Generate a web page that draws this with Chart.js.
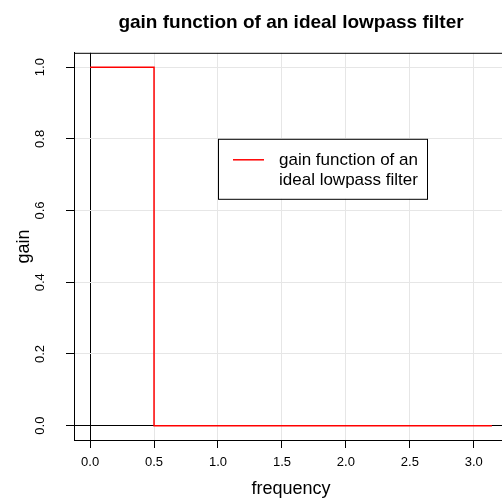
<!DOCTYPE html>
<html>
<head>
<meta charset="utf-8">
<script src="https://cdn.jsdelivr.net/npm/chart.js@4"></script>
<style>
  html, body { margin: 0; padding: 0; overflow: hidden; background: #fff; }
  #wrap { width: 502px; height: 502px; overflow: hidden; }
</style>
</head>
<body>
<div id="wrap"><canvas id="gain-chart" width="510" height="502"></canvas></div>
<script>
// gain of an ideal lowpass filter, cutoff at 0.5
const frequency = [0, 0.5, 0.5, Math.PI];
const gain = [1, 1, 0, 0];
const xTicks = [0, 0.5, 1.0, 1.5, 2.0, 2.5, 3.0];
const yTicks = [0, 0.2, 0.4, 0.6, 0.8, 1.0];
const seriesLabel = ['gain function of an', 'ideal lowpass filter'];

const FONT = "'Liberation Sans', Arial, sans-serif";
const GRID = '#e6e6e6';

const points = frequency.map((f, i) => ({ x: f, y: gain[i] }));

// box round the plot region + legend inside it
const boxAndLegend = {
    id: 'boxAndLegend',
    afterDraw(chart) {
        const ctx = chart.ctx;
        const a = chart.chartArea;
        ctx.save();
        ctx.strokeStyle = '#000';
        ctx.lineWidth = 1;
        ctx.beginPath();
        ctx.moveTo(a.left + 0.5, a.bottom + 0.5);
        ctx.lineTo(a.left + 0.5, a.top + 0.5);
        ctx.lineTo(a.right - 0.5, a.top + 0.5);
        ctx.lineTo(a.right - 0.5, a.bottom + 0.5);
        ctx.stroke();

        // legend
        const ds = chart.data.datasets[0];
        const lx = a.left + 144, ly = a.top + 86, lw = 209, lh = 60;
        ctx.fillStyle = '#fff';
        ctx.fillRect(lx, ly, lw, lh);
        ctx.strokeRect(lx + 0.5, ly + 0.5, lw, lh);
        ctx.strokeStyle = ds.borderColor;
        ctx.lineWidth = 1.5;
        ctx.beginPath();
        ctx.moveTo(lx + 15, ly + 21);
        ctx.lineTo(lx + 46, ly + 21);
        ctx.stroke();
        ctx.fillStyle = '#000';
        ctx.font = '17px ' + FONT;
        ctx.textBaseline = 'middle';
        ctx.textAlign = 'left';
        seriesLabel.forEach((t, i) => ctx.fillText(t, lx + 61, ly + 22 + i * 20));
        ctx.restore();
    }
};

const gainChart = new Chart(document.getElementById('gain-chart').getContext('2d'), {
    type: 'scatter',
    data: {
        datasets: [{
            label: seriesLabel.join(' '),
            data: points,
            showLine: true,
            borderColor: '#ff0000',
            borderWidth: 1.5,
            pointRadius: 0,
            fill: false
        }]
    },
    options: {
        responsive: false,
        animation: false,
        devicePixelRatio: 1,
        layout: { padding: { left: 0, right: 2, top: 0, bottom: 0 } },
        plugins: {
            legend: { display: false },
            tooltip: { enabled: false },
            title: {
                display: true,
                fullSize: false,
                text: 'gain function of an ideal lowpass filter',
                color: '#000',
                font: { family: FONT, size: 19, weight: 'bold' },
                padding: { top: 11, bottom: 19 }
            }
        },
        scales: {
            x: {
                type: 'linear',
                min: -0.1257,
                max: 3.2673,
                afterBuildTicks: s => { s.ticks = xTicks.map(v => ({ value: v })); },
                afterFit: s => { s.height = 62; },
                ticks: {
                    color: '#000',
                    font: { family: FONT, size: 13 },
                    padding: 7,
                    maxRotation: 0,
                    callback: v => v.toFixed(1)
                },
                grid: {
                    color: c => (c.tick && c.tick.value === 0 ? '#000' : GRID),
                    tickColor: '#000',
                    tickLength: 8
                },
                border: { color: '#000', width: 1 },
                title: {
                    display: true,
                    text: 'frequency',
                    color: '#000',
                    font: { family: FONT, size: 18 },
                    padding: { top: 0, bottom: 2 }
                }
            },
            y: {
                type: 'linear',
                min: -0.04,
                max: 1.04,
                afterBuildTicks: s => { s.ticks = yTicks.map(v => ({ value: v })); },
                afterFit: s => { s.width = 74; },
                ticks: {
                    color: '#000',
                    font: { family: FONT, size: 13 },
                    padding: 17,
                    minRotation: 90,
                    maxRotation: 90,
                    crossAlign: 'center',
                    callback: v => v.toFixed(1)
                },
                grid: {
                    color: c => (c.tick && c.tick.value === 0 ? '#000' : GRID),
                    tickColor: '#000',
                    tickLength: 8
                },
                border: { color: '#000', width: 1 },
                title: {
                    display: true,
                    text: 'gain',
                    color: '#000',
                    font: { family: FONT, size: 18 },
                    padding: { top: 13, bottom: 0 }
                }
            }
        }
    },
    plugins: [boxAndLegend]
});
</script>
</body>
</html>
